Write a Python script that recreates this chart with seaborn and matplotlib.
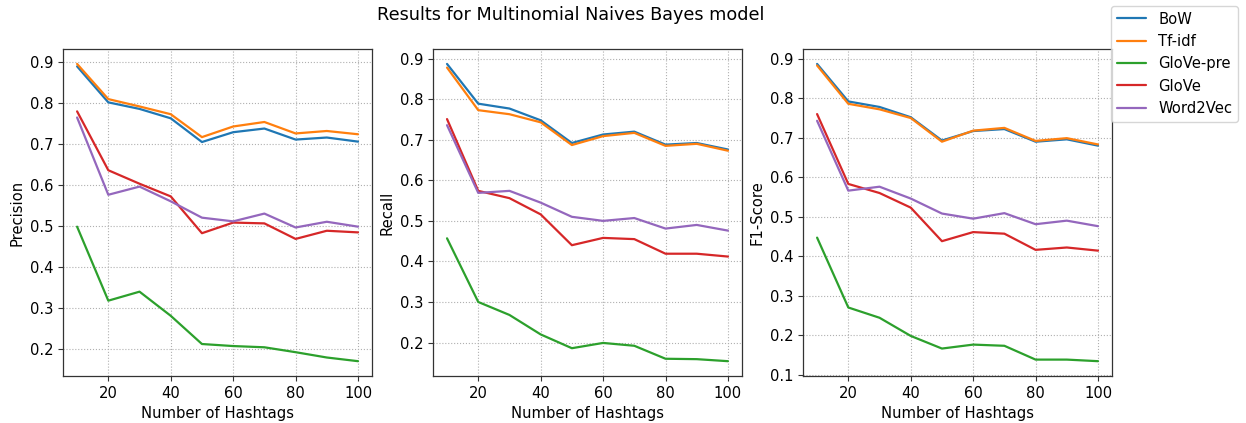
import numpy as np
import pandas as pd
import matplotlib
matplotlib.use("Agg")
import matplotlib.pyplot as plt
import seaborn as sns

hashtags = [10, 20, 30, 40, 50, 60, 70, 80, 90, 100]
models = ["BoW", "Tf-idf", "GloVe-pre", "GloVe", "Word2Vec"]

precision = {
    "BoW":       [0.890, 0.802, 0.786, 0.763, 0.705, 0.729, 0.738, 0.711, 0.716, 0.706],
    "Tf-idf":    [0.896, 0.810, 0.792, 0.773, 0.717, 0.743, 0.754, 0.726, 0.732, 0.724],
    "GloVe-pre": [0.498, 0.317, 0.339, 0.280, 0.211, 0.206, 0.203, 0.191, 0.178, 0.169],
    "GloVe":     [0.780, 0.636, 0.603, 0.572, 0.482, 0.508, 0.506, 0.468, 0.488, 0.484],
    "Word2Vec":  [0.765, 0.576, 0.596, 0.560, 0.520, 0.511, 0.530, 0.496, 0.510, 0.498],
}
recall = {
    "BoW":       [0.887, 0.789, 0.777, 0.748, 0.692, 0.713, 0.720, 0.688, 0.692, 0.676],
    "Tf-idf":    [0.878, 0.773, 0.763, 0.743, 0.687, 0.709, 0.717, 0.685, 0.690, 0.673],
    "GloVe-pre": [0.457, 0.300, 0.268, 0.220, 0.186, 0.199, 0.192, 0.160, 0.159, 0.154],
    "GloVe":     [0.751, 0.574, 0.556, 0.516, 0.440, 0.458, 0.455, 0.419, 0.419, 0.412],
    "Word2Vec":  [0.736, 0.569, 0.574, 0.545, 0.510, 0.500, 0.507, 0.481, 0.490, 0.476],
}
f1_score = {
    "BoW":       [0.887, 0.792, 0.778, 0.752, 0.693, 0.717, 0.722, 0.690, 0.696, 0.680],
    "Tf-idf":    [0.883, 0.786, 0.772, 0.750, 0.690, 0.718, 0.725, 0.692, 0.699, 0.683],
    "GloVe-pre": [0.447, 0.270, 0.244, 0.198, 0.166, 0.176, 0.173, 0.138, 0.138, 0.134],
    "GloVe":     [0.760, 0.583, 0.560, 0.523, 0.438, 0.461, 0.457, 0.416, 0.422, 0.414],
    "Word2Vec":  [0.743, 0.566, 0.576, 0.546, 0.508, 0.495, 0.509, 0.481, 0.490, 0.476],
}

metrics = [("Precision", precision), ("Recall", recall), ("F1-Score", f1_score)]

sns.set_style("ticks", {
    "axes.grid": True,
    "grid.linestyle": ":",
    "grid.color": "#b0b0b0",
    "axes.edgecolor": "#333333",
    "axes.labelcolor": "black",
    "text.color": "black",
    "xtick.color": "black",
    "ytick.color": "black",
    "xtick.direction": "out",
    "ytick.direction": "out",
})
plt.rcParams["font.family"] = ["DejaVu Sans"]
plt.rcParams["grid.linewidth"] = 0.8
plt.rcParams["xtick.major.size"] = 3.5
plt.rcParams["ytick.major.size"] = 3.5

FS = 10.6

palette = dict(zip(models, sns.color_palette("tab10", 5)))

fig = plt.figure(figsize=(12.46, 4.23), dpi=100)
lefts = [0.0506, 0.3475, 0.6445]
axes = [fig.add_axes([l, 0.111, 0.248, 0.773]) for l in lefts]

for ax, (name, table) in zip(axes, metrics):
    rows = []
    for m in models:
        for h, v in zip(hashtags, table[m]):
            rows.append({"hashtags": h, "score": v, "model": m})
    df = pd.DataFrame(rows)
    sns.lineplot(data=df, x="hashtags", y="score", hue="model", hue_order=models,
                 palette=palette, linewidth=1.6, ax=ax, legend=False)
    ax.set_xlabel("Number of Hashtags", fontsize=FS)
    ax.set_ylabel(name, fontsize=FS)
    ax.margins(x=0.05, y=0.05)
    ax.tick_params(labelsize=FS, color="#333333")
    for s in ax.spines.values():
        s.set_linewidth(0.9)

handles = axes[0].get_lines()[:len(models)]
fig.legend(handles, models, loc="upper right", bbox_to_anchor=(0.9995, 1.004),
           fontsize=FS, frameon=True, fancybox=True, framealpha=0.8, edgecolor="#cccccc")

fig.suptitle("Results for Multinomial Naives Bayes model", x=0.458, y=0.985, fontsize=12.7)

fig.savefig("out.png", dpi=100)
